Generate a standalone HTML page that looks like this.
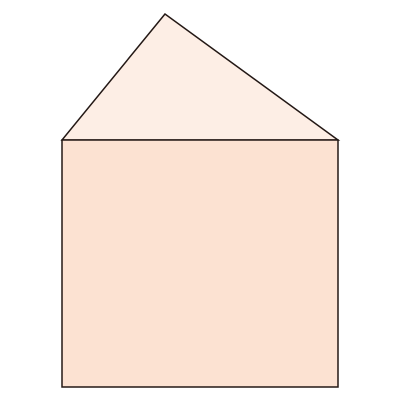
<!DOCTYPE html>
<html>
<head>
<meta charset="utf-8">
<style>
html,body{margin:0;padding:0;background:#ffffff;width:400px;height:400px;overflow:hidden;}
svg{display:block;}
</style>
</head>
<body>
<svg width="400" height="400" viewBox="0 0 400 400">
  <polygon points="165,14 62,140 338,140" fill="#fdeee5" stroke="#231815" stroke-width="1.5" stroke-linejoin="miter"/>
  <rect x="62" y="140" width="276" height="247" fill="#fce2d2" stroke="#231815" stroke-width="1.5"/>
</svg>
</body>
</html>
